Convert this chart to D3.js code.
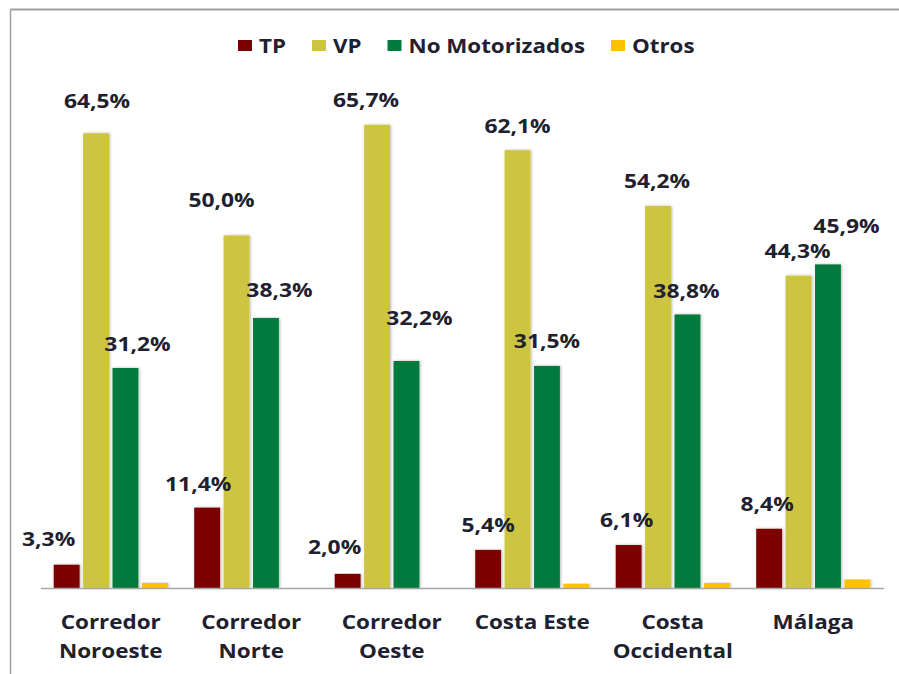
<!DOCTYPE html>
<html>
<head>
<meta charset="utf-8">
<script src="https://cdn.jsdelivr.net/npm/d3@7/dist/d3.min.js"></script>
<style>
  html, body { margin: 0; padding: 0; background: #fff; }
  svg { display: block; }
  text { font-family: "Open Sans", "Noto Sans", sans-serif; font-weight: 700; fill: #20202e; }
</style>
</head>
<body>
<svg id="chart" width="899" height="674"></svg>
<script>
// ---- data ----
const categories = ["Corredor\nNoroeste", "Corredor\nNorte", "Corredor\nOeste", "Costa Este", "Costa\nOccidental", "Málaga"];
const seriesNames = ["TP", "VP", "No Motorizados", "Otros"];
const tpValues = [3.3, 11.4, 2.0, 5.4, 6.1, 8.4];
const vpValues = [64.5, 50.0, 65.7, 62.1, 54.2, 44.3];
const noMotorValues = [31.2, 38.3, 32.2, 31.5, 38.8, 45.9];
const otrosValues = [0.7, 0.0, 0.0, 0.6, 0.7, 1.2];
const labelledSeries = ["TP", "VP", "No Motorizados"];

// ---- layout / style ----
const colors = { "TP": "#7b0000", "VP": "#cdc43f", "No Motorizados": "#007a3d", "Otros": "#ffc000" };
const SX = 1.17; // horizontal text stretch of the original rendering
// manual label nudges [dx, dy] relative to bar centre / top (per series, per category)
const labelNudge = {
  "TP": [[-18, -19], [-9, -17], [-13, -20], [0, -17.5], [-2, -17.5], [-2, -17.5]],
  "VP": [[1, -25], [-15, -29], [-11, -17.5], [0, -17.5], [-1, -18], [-1, -17.5]],
  "No Motorizados": [[12, -17.5], [13.5, -21], [13, -35.5], [0, -17.5], [-1, -16], [18.5, -31.5]]
};

const valuesBySeries = { "TP": tpValues, "VP": vpValues, "No Motorizados": noMotorValues, "Otros": otrosValues };

const svg = d3.select("#chart");
const baseY = 588;

const x0 = d3.scaleBand().domain(categories).range([40.5, 883.5]).paddingInner(0.188).paddingOuter(0.094);
const x1 = d3.scaleBand().domain(seriesNames).range([0, x0.bandwidth()]).paddingInner(0.12);
const y = d3.scaleLinear().domain([0, 70]).range([baseY, baseY - 7.05 * 70]);

// frame (top and left border)
svg.append("line").attr("x1", 10.5).attr("x2", 899).attr("y1", 9.5).attr("y2", 9.5)
  .attr("stroke", "#a0a0a0").attr("stroke-width", 2);
svg.append("line").attr("x1", 10.5).attr("x2", 10.5).attr("y1", 9.5).attr("y2", 674)
  .attr("stroke", "#a0a0a0").attr("stroke-width", 1.5);

// shadow filter
const defs = svg.append("defs");
const f = defs.append("filter").attr("id", "shadow").attr("x", "-30%").attr("y", "-5%").attr("width", "160%").attr("height", "110%");
f.append("feDropShadow").attr("dx", 1).attr("dy", 0).attr("stdDeviation", 1.4)
  .attr("flood-color", "#000").attr("flood-opacity", 0.28);

// bars
const groups = svg.append("g").selectAll("g").data(categories).join("g")
  .attr("transform", d => `translate(${x0(d)},0)`);

groups.selectAll("rect").data((c, i) => seriesNames.map(s => ({ s, v: valuesBySeries[s][i], i })))
  .join("rect")
  .filter(d => d.v > 0)
  .attr("x", d => x1(d.s))
  .attr("width", x1.bandwidth())
  .attr("y", d => y(d.v))
  .attr("height", d => y(0) - y(d.v))
  .attr("fill", d => colors[d.s])
  .attr("filter", "url(#shadow)");

// axis
const axis = svg.append("g").attr("transform", `translate(0,${baseY})`)
  .call(d3.axisBottom(x0).tickSize(0).tickSizeOuter(0).tickFormat(""));
axis.select(".domain").attr("stroke", "#a6a6a6").attr("stroke-width", 1.6);
axis.selectAll(".tick").each(function (d) {
  const lines = d.split("\n");
  const g = d3.select(this);
  lines.forEach((ln, k) => {
    g.append("text")
      .attr("transform", `translate(0,${40.5 + k * 29}) scale(${SX},1)`)
      .attr("text-anchor", "middle")
      .attr("font-size", 19.2)
      .style("fill", "#20202e")
      .text(ln);
  });
});

// data labels
const fmt = v => d3.format(".1f")(v).replace(".", ",") + "%";
labelledSeries.forEach(s => {
  valuesBySeries[s].forEach((v, i) => {
    const c = categories[i];
    const cx = x0(c) + x1(s) + x1.bandwidth() / 2 + labelNudge[s][i][0];
    const cy = y(v) + labelNudge[s][i][1];
    svg.append("text")
      .attr("transform", `translate(${cx},${cy}) scale(${SX},1)`)
      .attr("text-anchor", "middle")
      .attr("font-size", 19.5)
      .text(fmt(v));
  });
});

// legend
const legend = svg.append("g");
let lx = 238;
seriesNames.forEach(s => {
  legend.append("rect").attr("x", lx).attr("y", 40).attr("width", 14).attr("height", 11).attr("fill", colors[s]);
  const t = legend.append("text")
    .attr("transform", `translate(${lx + 21},${53}) scale(${SX},1)`)
    .attr("font-size", 19.1)
    .text(s);
  const w = t.node().getComputedTextLength() * SX;
  lx = lx + 21 + w + 26;
});
</script>
</body>
</html>
